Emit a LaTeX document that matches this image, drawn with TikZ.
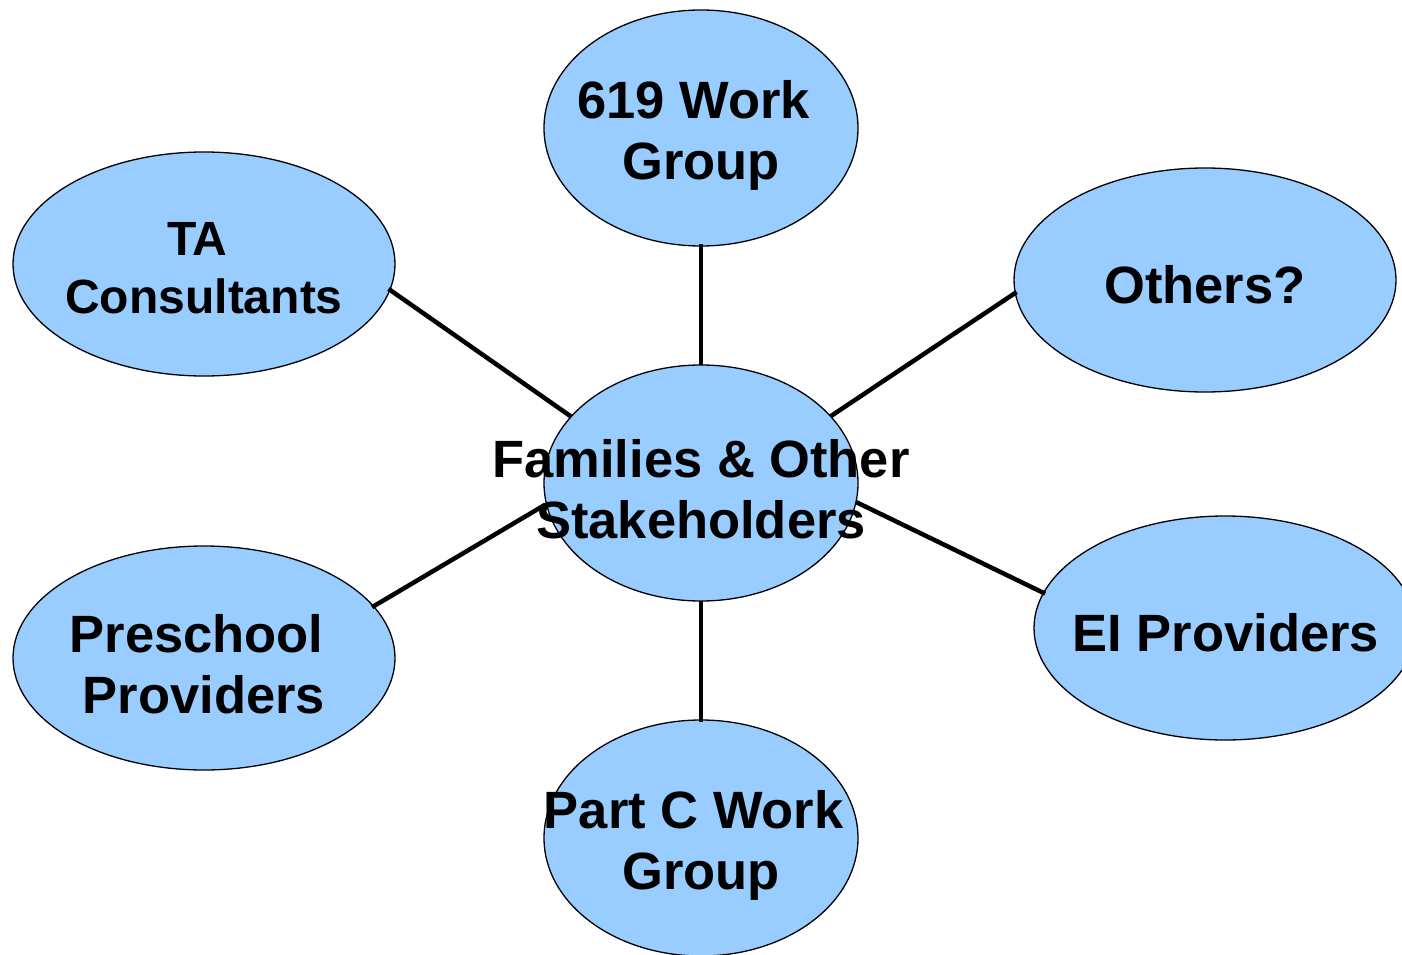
\documentclass[tikz,border=0pt]{standalone}
\usepackage{fontspec}
\setmainfont{Liberation Sans}
\usetikzlibrary{shapes.geometric}
\definecolor{blobfill}{HTML}{99CCFF}
\tikzset{
  blob/.style={ellipse, draw=black, line width=1.3pt, fill=blobfill, inner sep=0pt},
  small/.style={blob, minimum width=314pt, minimum height=236pt},
  wide/.style={blob, minimum width=382pt, minimum height=224pt},
  lbl/.style={align=center, font=\fontsize{52.5}{61}\selectfont\bfseries, inner sep=0pt},
  lblsm/.style={align=center, font=\fontsize{48}{58}\selectfont\bfseries, inner sep=0pt},
  link/.style={line width=4.5pt, line cap=rect}
}
\begin{document}
\begin{tikzpicture}[x=1pt,y=-1pt]
\useasboundingbox[fill=white] (0,0) rectangle (1402,955);
% ellipses
\node[small] (top) at (701,128) {};
\node[wide]  (ta) at (204,264) {};
\node[wide]  (oth) at (1205,280) {};
\node[wide]  (pre) at (204,658) {};
\node[wide]  (ei) at (1225,628) {};
\node[small] (pc) at (701,838) {};
% connectors (under the centre ellipse)
\draw[link] (top.-90) -- (701,365) coordinate (c1);
\draw[link] (ta.-8.9) -- (576,420) coordinate (c2);
\draw[link] (oth.184.2) -- (828,418) coordinate (c3);
\draw[link] (pre.17.4) -- (543,506) coordinate (c4);
\draw[link] (ei.169.9) -- (858,503) coordinate (c5);
\draw[link] (pc.90) -- (701,601) coordinate (c6);
\node[small] (ctr) at (701,483) {};
% labels
\node[lbl] (topt) at (701,135) {619 Work\kern0.28em\\Group};
\node[lblsm] (tat) at (204,268) {TA\kern0.28em\\Consultants};
\node[lbl] (otht) at (1205,285) {Others?};
\node[lbl] (ctrt) at (701,489) {Families \& Other\\Stakeholders};
\node[lbl] (pret) at (204,664) {Preschool\kern0.28em\\Providers};
\node[lbl] (eit) at (1226,633) {EI Providers};
\node[lbl] (pct) at (701,845) {Part C Work\kern0.28em\\Group};
\end{tikzpicture}
\end{document}
